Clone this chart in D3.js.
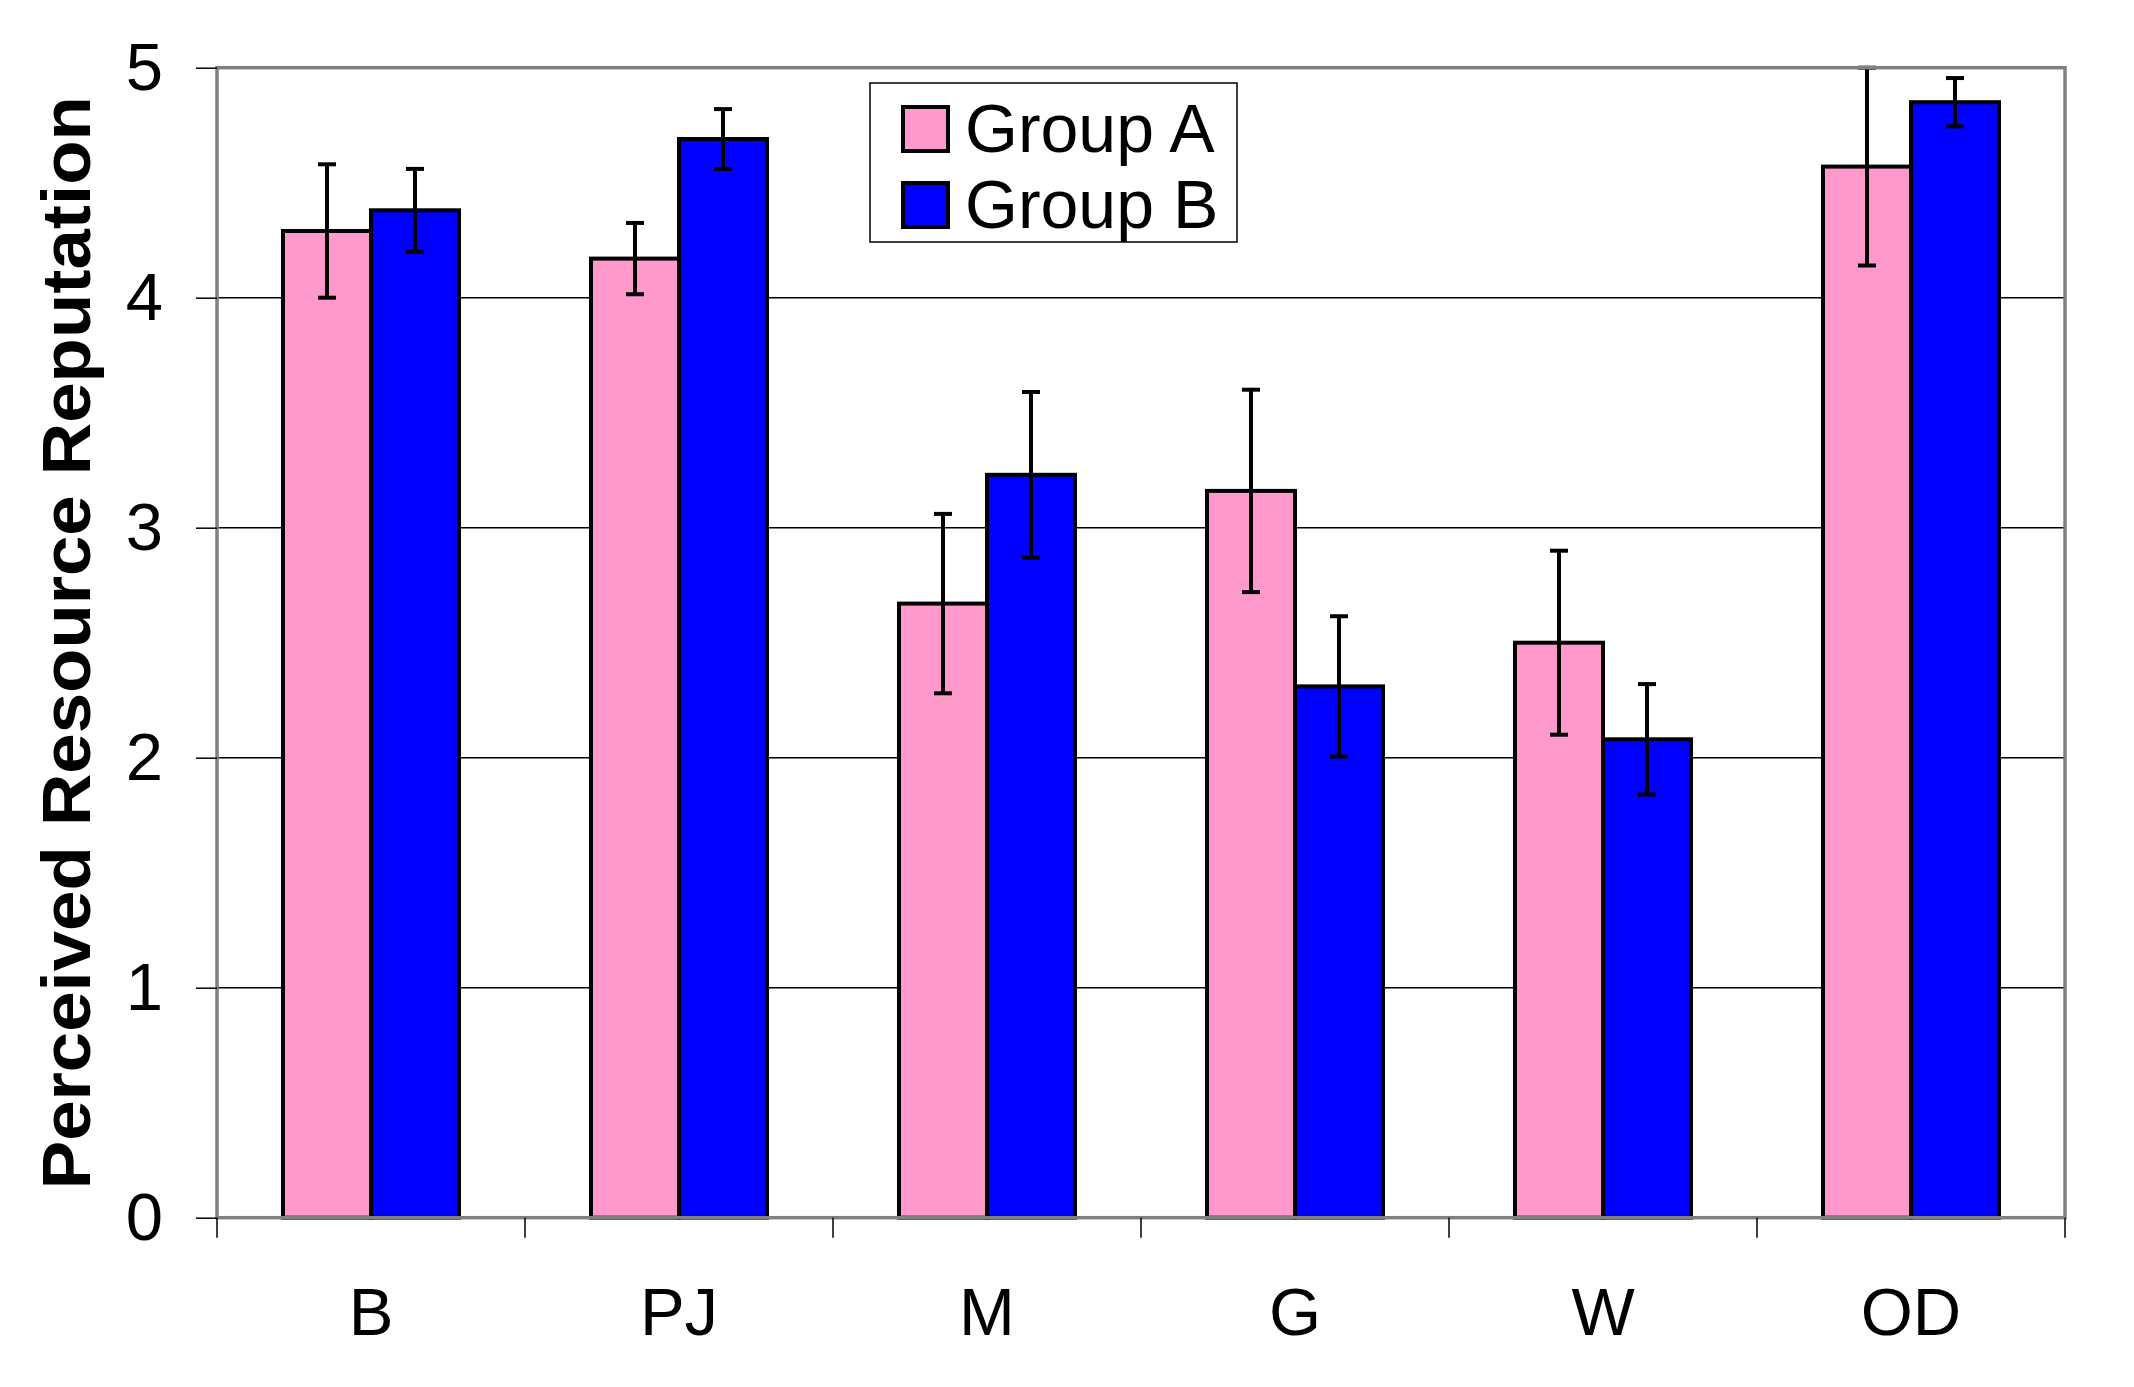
<!DOCTYPE html>
<html>
<head>
<meta charset="utf-8">
<script src="https://cdn.jsdelivr.net/npm/d3@7"></script>
<style>
  body { margin: 0; background: #fff; }
  text { font-family: "Liberation Sans", Arial, sans-serif; }
</style>
</head>
<body>
<div id="chart"></div>
<script>
const categories = ["B", "PJ", "M", "G", "W", "OD"];
const seriesNames = ["Group A", "Group B"];
const groupA = [4.29, 4.17, 2.67, 3.16, 2.50, 4.57];
const groupAErr = [0.29, 0.155, 0.39, 0.44, 0.40, 0.43];
const groupB = [4.38, 4.69, 3.23, 2.31, 2.08, 4.85];
const groupBErr = [0.18, 0.13, 0.36, 0.305, 0.24, 0.105];
const yTicks = [0, 1, 2, 3, 4, 5];
const colors = ["#ff99cc", "#0000ff"];

const W = 2134, H = 1387;
const margin = { top: 67.7, right: 69, bottom: 169.3, left: 217 };
const width = W - margin.left - margin.right;
const height = H - margin.top - margin.bottom;

const svg = d3.select("#chart")
  .append("svg")
  .attr("width", W)
  .attr("height", H);

const g = svg.append("g")
  .attr("transform", `translate(${margin.left},${margin.top})`);

const x = d3.scaleBand().domain(categories).range([0, width]);
const xSub = d3.scaleBand().domain(seriesNames)
  .range([0, x.bandwidth()])
  .paddingInner(0)
  .paddingOuter(0.75);
const y = d3.scaleLinear().domain([0, 5]).range([height, 0]);

// gridlines
g.append("g")
  .selectAll("line")
  .data(yTicks.filter(t => t > 0 && t < 5))
  .enter()
  .append("line")
  .attr("x1", 0)
  .attr("x2", width)
  .attr("y1", d => y(d))
  .attr("y2", d => y(d))
  .attr("stroke", "#000")
  .attr("stroke-width", 1.5);

const rows = categories.map((c, i) => [
  { cat: c, s: seriesNames[0], v: groupA[i], e: groupAErr[i], color: colors[0] },
  { cat: c, s: seriesNames[1], v: groupB[i], e: groupBErr[i], color: colors[1] }
]).flat();

// bars
g.append("g")
  .selectAll("rect")
  .data(rows)
  .enter()
  .append("rect")
  .attr("x", d => x(d.cat) + xSub(d.s))
  .attr("y", d => y(d.v))
  .attr("width", xSub.bandwidth())
  .attr("height", d => height - y(d.v))
  .attr("fill", d => d.color)
  .attr("stroke", "#000")
  .attr("stroke-width", 4);

// error bars
const eb = g.append("g")
  .selectAll("g")
  .data(rows)
  .enter()
  .append("g")
  .attr("stroke", "#000")
  .attr("stroke-width", 4);

const cx = d => x(d.cat) + xSub(d.s) + xSub.bandwidth() / 2;
eb.append("line")
  .attr("x1", cx).attr("x2", cx)
  .attr("y1", d => y(d.v + d.e))
  .attr("y2", d => y(d.v - d.e));
eb.append("line")
  .attr("x1", d => cx(d) - 9).attr("x2", d => cx(d) + 9)
  .attr("y1", d => y(d.v + d.e)).attr("y2", d => y(d.v + d.e));
eb.append("line")
  .attr("x1", d => cx(d) - 9).attr("x2", d => cx(d) + 9)
  .attr("y1", d => y(d.v - d.e)).attr("y2", d => y(d.v - d.e));

// plot frame
g.append("rect")
  .attr("x", 0)
  .attr("y", 0)
  .attr("width", width)
  .attr("height", height)
  .attr("fill", "none")
  .attr("stroke", "#808080")
  .attr("stroke-width", 3.5);

// y axis
g.append("g")
  .call(d3.axisLeft(y).tickValues(yTicks).tickFormat(d3.format("d")).tickSize(21).tickPadding(33))
  .call(a => a.select(".domain").remove())
  .call(a => a.selectAll("line").attr("stroke", "#000").attr("stroke-width", 1.5))
  .call(a => a.selectAll("text")
    .attr("fill", "#000")
    .style("font-size", "67px")
    .style("font-family", "'Liberation Sans', Arial, sans-serif"));

// x axis labels
g.append("g")
  .attr("transform", `translate(0,${height})`)
  .call(d3.axisBottom(x).tickSize(0))
  .call(a => a.select(".domain").remove())
  .call(a => a.selectAll("text")
    .attr("y", 117)
    .attr("dy", 0)
    .attr("fill", "#000")
    .style("font-size", "67px")
    .style("font-family", "'Liberation Sans', Arial, sans-serif"));

// x boundary ticks
const bounds = categories.map(c => x(c)).concat([width]);
g.append("g")
  .selectAll("line")
  .data(bounds)
  .enter()
  .append("line")
  .attr("x1", d => d)
  .attr("x2", d => d)
  .attr("y1", height)
  .attr("y2", height + 20)
  .attr("stroke", "#000")
  .attr("stroke-width", 1.5);

// y title
svg.append("text")
  .attr("transform", `translate(90,${margin.top + height / 2}) rotate(-90)`)
  .attr("text-anchor", "middle")
  .attr("textLength", 1093)
  .attr("lengthAdjust", "spacingAndGlyphs")
  .style("font-size", "68px")
  .style("font-weight", "bold")
  .text("Perceived Resource Reputation");

// legend
const legend = svg.append("g");
legend.append("rect")
  .attr("x", 870)
  .attr("y", 83)
  .attr("width", 367)
  .attr("height", 159)
  .attr("fill", "#fff")
  .attr("stroke", "#000")
  .attr("stroke-width", 1.5);

const items = legend.selectAll("g.item")
  .data(seriesNames)
  .enter()
  .append("g")
  .attr("class", "item")
  .attr("transform", (d, i) => `translate(903,${107 + i * 76})`);

items.append("rect")
  .attr("width", 45)
  .attr("height", 44)
  .attr("fill", (d, i) => colors[i])
  .attr("stroke", "#000")
  .attr("stroke-width", 4);

items.append("text")
  .attr("x", 62)
  .attr("y", 45)
  .style("font-size", "68px")
  .text(d => d);
</script>
</body>
</html>
